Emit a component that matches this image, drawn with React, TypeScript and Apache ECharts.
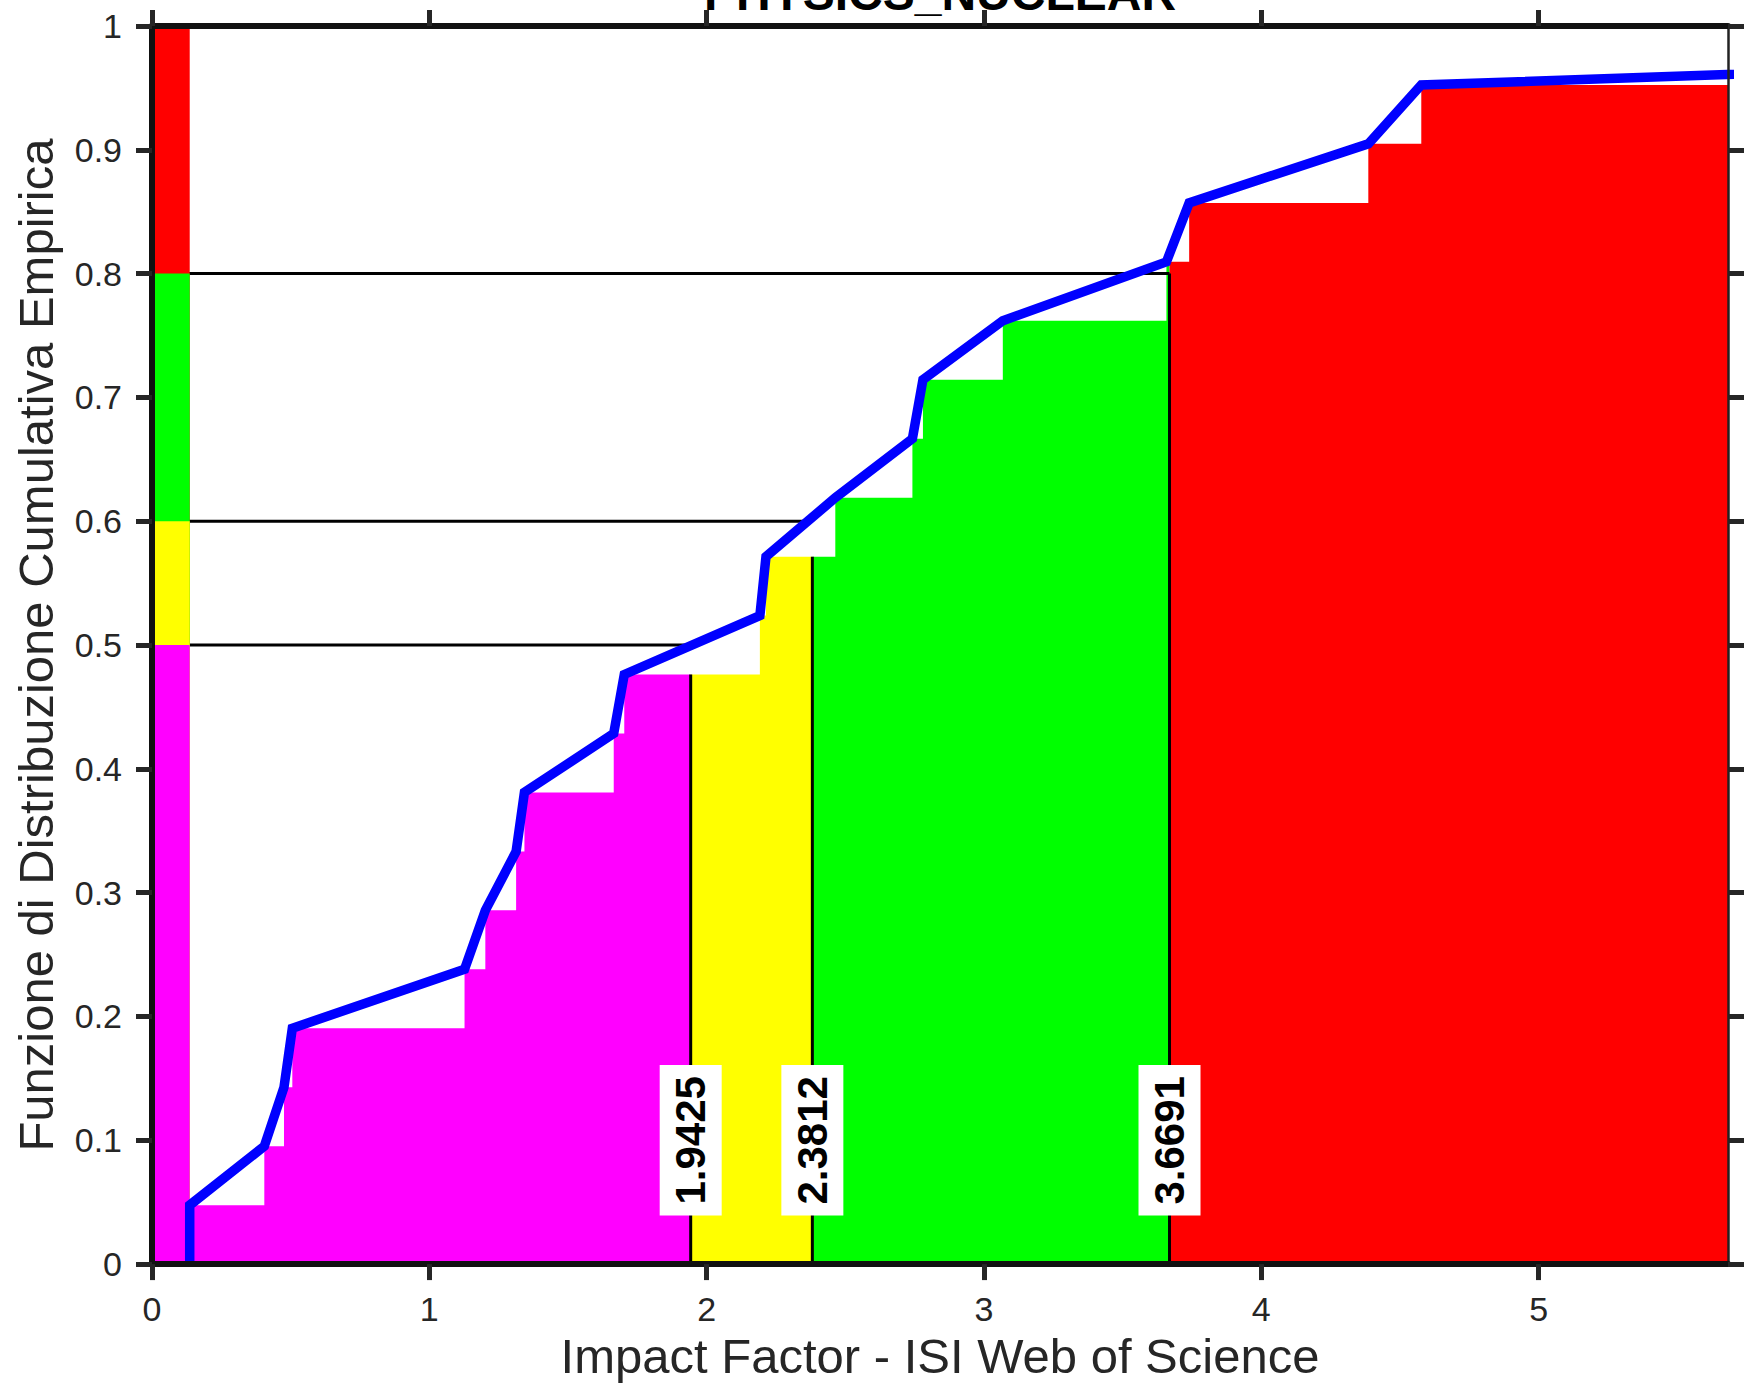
import React, { useEffect, useRef } from 'react';
import * as echarts from 'echarts';

// ---- data ----
const sampleX = [0.136, 0.405, 0.476, 0.506, 1.127, 1.202, 1.313, 1.343, 1.665, 1.703, 2.192, 2.214, 2.464, 2.742, 2.78, 3.068, 3.658, 3.74, 4.386, 4.577, 10.85];
const cdfValues = [0.0476, 0.0952, 0.1429, 0.1905, 0.2381, 0.2857, 0.3333, 0.381, 0.4286, 0.4762, 0.5238, 0.5714, 0.619, 0.6667, 0.7143, 0.7619, 0.8095, 0.8571, 0.9048, 0.9524, 1.0];
const quantileProbs = [0.5, 0.6, 0.8];
const quantileValues = [1.9425, 2.3812, 3.6691];
const quantileLabels = ['1.9425', '2.3812', '3.6691'];
const bandColors = ['#ff00ff', '#ffff00', '#00ff00', '#ff0000'];
const bandProbTops = [0.5, 0.6, 0.8, 1.0];
const xTicks = [0, 1, 2, 3, 4, 5];
const xMax = 5.683;
const labelLevel = 0.1;
const titleText = 'PHYSICS_NUCLEAR';
const xName = 'Impact Factor - ISI Web of Science';
const yName = 'Funzione di Distribuzione Cumulativa Empirica';

const FONT = "'Liberation Sans', Arial, Helvetica, sans-serif";
const AX = '#262626';

function stepAt(x: number): number {
  let v = 0;
  for (let i = 0; i < sampleX.length; i++) {
    if (sampleX[i] <= x + 1e-12) v = cdfValues[i];
  }
  return v;
}

function regionData(a: number, b: number): number[][] {
  const pts: number[][] = [[a, stepAt(a)]];
  for (let i = 0; i < sampleX.length; i++) {
    if (sampleX[i] > a && sampleX[i] < b) pts.push([sampleX[i], cdfValues[i]]);
  }
  pts.push([b, stepAt(b)]);
  return pts;
}

export default function App() {
  const ref = useRef<HTMLDivElement>(null);
  useEffect(() => {
    document.body.style.margin = '0';
    if (!ref.current) return;
    const chart = echarts.init(ref.current, null, { renderer: 'svg' });

    const bounds = [sampleX[0], ...quantileValues, sampleX[sampleX.length - 1]];
    const series: any[] = [];

    // stepped fills coloured by quantile band
    for (let b = 0; b < bandColors.length; b++) {
      series.push({
        type: 'line',
        step: 'end',
        data: regionData(bounds[b], bounds[b + 1]),
        symbol: 'none',
        lineStyle: { width: 0, opacity: 0 },
        areaStyle: { color: bandColors[b], opacity: 1 },
        z: 2,
        silent: true,
      });
    }

    // quantile guide lines
    quantileProbs.forEach((p, i) => {
      const q = quantileValues[i];
      series.push({
        type: 'line',
        data: [[0, p], [q, p]],
        symbol: 'none',
        lineStyle: { color: '#000', width: 3 },
        z: 3,
        silent: true,
      });
      series.push({
        type: 'line',
        data: [[q, 0], [q, Math.min(p, stepAt(q))]],
        symbol: 'none',
        lineStyle: { color: '#000', width: 3 },
        z: 3,
        silent: true,
      });
    });

    // colour strip along y axis
    for (let b = bandColors.length - 1; b >= 0; b--) {
      series.push({
        type: 'line',
        data: [[0, bandProbTops[b]], [sampleX[0], bandProbTops[b]]],
        symbol: 'none',
        lineStyle: { width: 0, opacity: 0 },
        areaStyle: { color: bandColors[b], opacity: 1 },
        z: 4,
        silent: true,
      });
    }

    // empirical CDF polyline
    series.push({
      type: 'line',
      data: [[sampleX[0], 0], ...sampleX.map((x, i) => [x, cdfValues[i]])],
      symbol: 'none',
      lineStyle: { color: '#0000ff', width: 9.5, join: 'miter', cap: 'butt' },
      z: 5,
      silent: true,
    });

    // quantile value labels
    series.push({
      type: 'scatter',
      data: quantileValues.map((q) => [q, labelLevel]),
      symbolSize: 0,
      itemStyle: { opacity: 1 },
      z: 6,
      silent: true,
      label: {
        show: true,
        position: 'inside',
        formatter: (p: any) => quantileLabels[p.dataIndex],
        rotate: 90,
        fontSize: 42,
        fontWeight: 'bold',
        fontFamily: FONT,
        color: '#000',
        opacity: 1,
        backgroundColor: '#ffffff',
        padding: [10, 11, 10, 11],
        lineHeight: 42,
      },
      emphasis: { disabled: true },
    });

    const axisLineStyle = { color: '#111', width: 6 };
    const tickStyle = { color: AX, width: 5 };

    chart.setOption({
      animation: false,
      backgroundColor: '#fff',
      grid: { left: 152, top: 26, width: 1576, height: 1242, containLabel: false },
      xAxis: [
        {
          type: 'value', position: 'bottom', min: 0, max: xMax, z: 10,
          axisLine: { show: true, onZero: false, lineStyle: axisLineStyle },
          axisTick: { show: true, inside: false, length: 16, customValues: xTicks, lineStyle: tickStyle },
          axisLabel: { show: true, customValues: xTicks, margin: 28, fontSize: 34, color: AX, fontFamily: FONT },
          splitLine: { show: false },
          name: xName, nameLocation: 'middle', nameGap: 64,
          nameTextStyle: { fontSize: 49, color: AX, fontFamily: FONT },
        },
        {
          type: 'value', position: 'top', min: 0, max: xMax, z: 10,
          axisLine: { show: true, onZero: false, lineStyle: axisLineStyle },
          axisTick: { show: true, inside: false, length: 16, customValues: xTicks, lineStyle: tickStyle },
          axisLabel: { show: false },
          splitLine: { show: false },
        },
      ],
      yAxis: [
        {
          type: 'value', position: 'left', min: 0, max: 1, interval: 0.1, z: 10,
          axisLine: { show: true, onZero: false, lineStyle: axisLineStyle },
          axisTick: { show: true, inside: false, length: 16, lineStyle: tickStyle },
          axisLabel: { show: true, margin: 30, fontSize: 34, color: AX, fontFamily: FONT },
          splitLine: { show: false },
          name: yName, nameLocation: 'middle', nameRotate: 90, nameGap: 92,
          nameTextStyle: { fontSize: 49, color: AX, fontFamily: FONT },
        },
        {
          type: 'value', position: 'right', min: 0, max: 1, interval: 0.1, z: 10,
          axisLine: { show: true, onZero: false, lineStyle: { color: '#222', width: 2.5 } },
          axisTick: { show: true, inside: false, length: 16, lineStyle: tickStyle },
          axisLabel: { show: false },
          splitLine: { show: false },
        },
      ],
      graphic: [
        {
          type: 'text',
          x: 940,
          y: -7,
          z: 20,
          style: {
            text: titleText,
            fontSize: 48,
            fontWeight: 'bold',
            fontFamily: FONT,
            fill: '#000',
            align: 'center',
            verticalAlign: 'middle',
          },
        },
      ],
      series,
    });

    return () => chart.dispose();
  }, []);

  return <div ref={ref} style={{ width: 1747, height: 1385 }} />;
}
